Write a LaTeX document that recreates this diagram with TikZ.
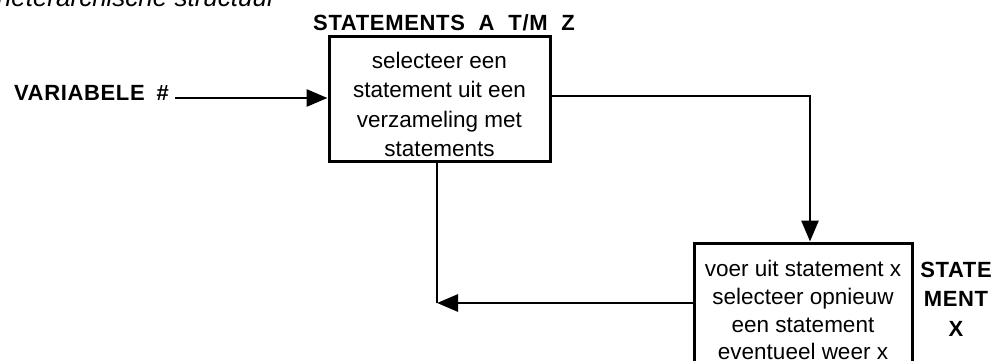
\documentclass[tikz,border=0pt]{standalone}
\usepackage{fontspec}
\setmainfont{Liberation Sans}
\newfontfamily\labfont[LetterSpace=3]{Liberation Sans Bold}
\usetikzlibrary{arrows.meta}
\tikzset{
  boxshape/.style={draw, line width=3pt, inner sep=0pt},
  boxtext/.style={align=center, inner sep=0pt, font=\fontsize{22.5}{29.6}\selectfont},
  boxtextb/.style={align=center, inner sep=0pt, font=\fontsize{22.5}{27.7}\selectfont},
  lab/.style={inner sep=0pt, font=\labfont\fontsize{22}{29}\selectfont},
  conn/.style={line width=2.8pt},
  arr/.style={conn, -{Triangle[length=21pt,width=17pt]}},
}
\begin{document}
\begin{tikzpicture}[x=1pt, y=-1pt]
\useasboundingbox (0,0) rectangle (995,361);
% cut-off caption
\node[inner sep=0pt, anchor=base east, font=\itshape\fontsize{26}{30}\selectfont] (cap) at (276,7) {heterarchische structuur};
% titles
\node[lab, anchor=base] (title) at (444,31) {STATEMENTS\hspace{7pt} A\hspace{7pt} T/M\hspace{7pt} Z};
\node[lab, anchor=base east] (var) at (169,100) {VARIABELE\hspace{5pt} \#};
\node[lab, align=center, anchor=base, font=\labfont\fontsize{22}{29.5}\selectfont] (sx) at (956,336) {STATE\\MENT\\X};
% boxes
\node[boxshape, minimum width=221pt, minimum height=124pt] (b1) at (439.5,99) {};
\node[boxtext] (t1) at (439.5,104.5) {selecteer een\\statement uit een\\verzameling met\\statements};
\node[boxshape, minimum width=218pt, minimum height=150pt] (b2) at (803,318) {};
\node[boxtextb] (t2) at (803,310.3) {voer uit statement x\\selecteer opnieuw\\een statement\\eventueel weer x};
% connectors
\coordinate (vin) at (175,98);
\draw[arr] (vin) -- (vin -| b1.west);
\coordinate (o1) at (b1.east |- 0,96);
\coordinate (o2) at (810,96);
\draw[arr] (o1) -- (o2) -- (o2 |- b2.north);
\coordinate (j) at (437,303);
\draw[conn] (j |- b1.south) -- (j);
\draw[arr] (b2.west |- j) -- (j);
\end{tikzpicture}
\end{document}
